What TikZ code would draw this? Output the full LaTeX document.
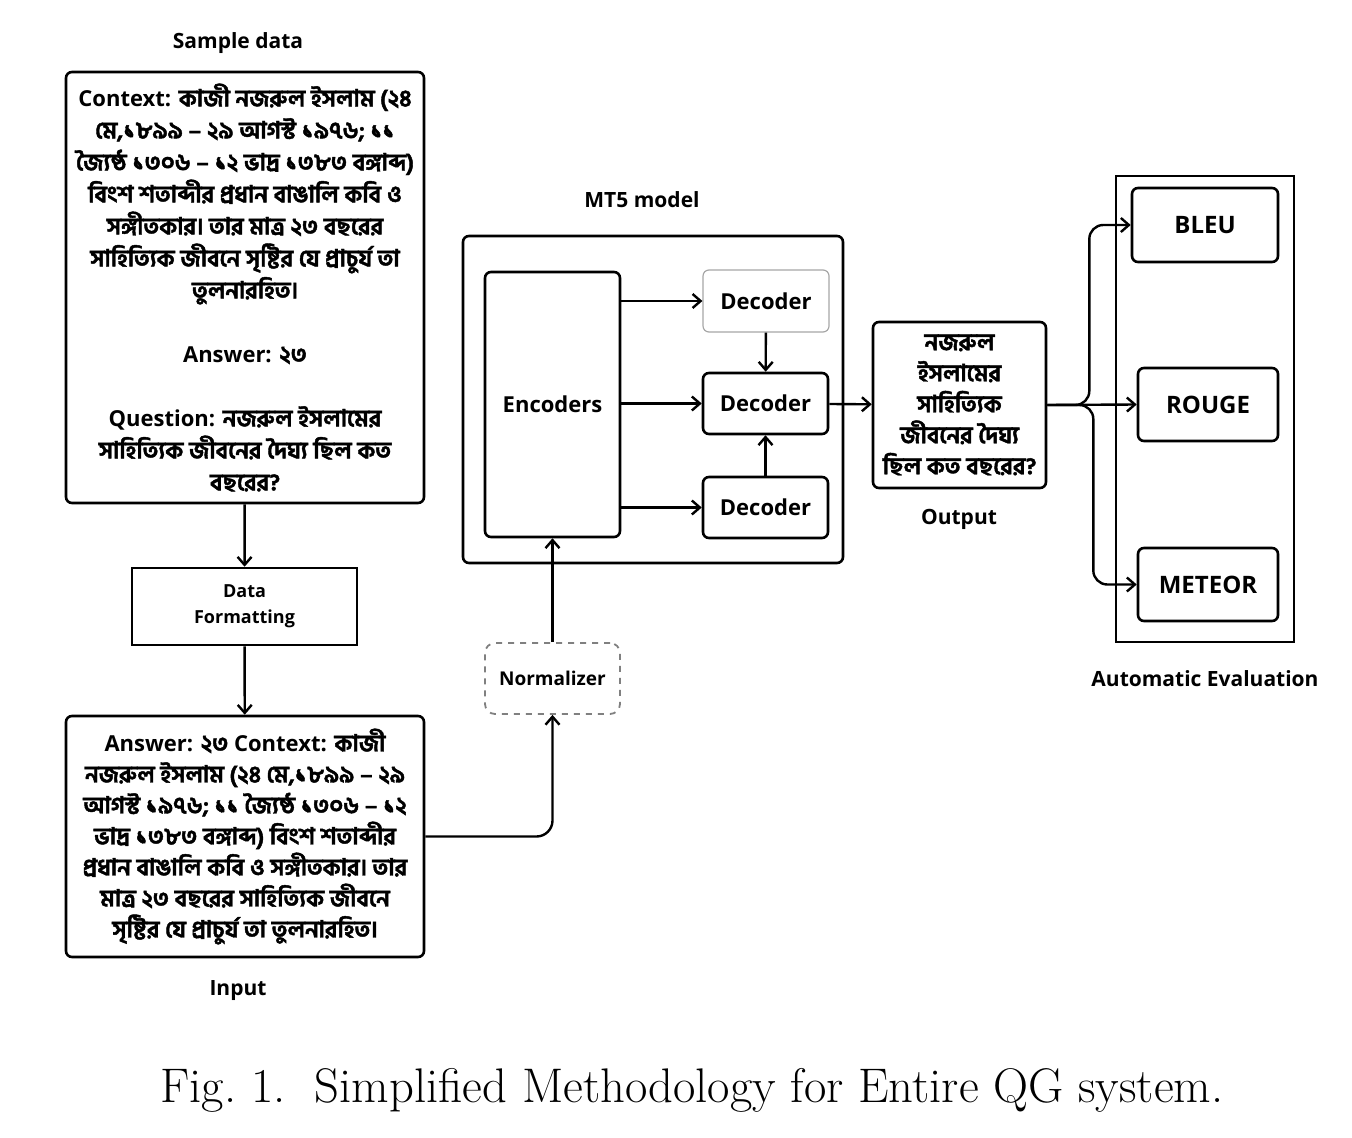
\documentclass[tikz,border=0pt]{standalone}
\usepackage{fontspec}
\setsansfont{Open Sans}
\newfontfamily\bnfont[Script=Bengali, Scale=1.07, FakeBold=1.8]{Hind Siliguri}
\usepackage{tikz}
\usetikzlibrary{arrows.meta, positioning, calc}
\newcommand{\bn}[1]{{\bnfont #1}}

\begin{document}
\begin{tikzpicture}[x=0.5pt, y=-0.5pt,
    box/.style={draw, line width=1.3pt, rounded corners=3pt, align=center, inner sep=0pt},
    arr/.style={-{Straight Barb[length=4pt, width=7pt]}, line width=1.2pt},
    title/.style={font=\sffamily\bfseries\fontsize{10.5}{12}\selectfont},
    body/.style={font=\sffamily\bfseries\fontsize{11}{16}\selectfont},
    metric/.style={box, minimum width=70pt, minimum height=36.5pt, font=\sffamily\bfseries\fontsize{12}{14}\selectfont}]
  \useasboundingbox (0,0) rectangle (1352,1138);
  % Sample data and its formatting
  \node[title] (sampletitle) at (238,43) {Sample data};
  \node[box, body, minimum width=179pt, minimum height=215.5pt] (sample) at (245,287.5) {%
    Context: \bn{কাজী নজরুল ইসলাম (২৪}\\
    \bn{মে,১৮৯৯ – ২৯ আগস্ট ১৯৭৬; ১১}\\
    \bn{জ্যৈষ্ঠ ১৩০৬ – ১২ ভাদ্র ১৩৮৩ বঙ্গাব্দ)}\\
    \bn{বিংশ শতাব্দীর প্রধান বাঙালি কবি ও}\\
    \bn{সঙ্গীতকার। তার মাত্র ২৩ বছরের}\\
    \bn{সাহিত্যিক জীবনে সৃষ্টির যে প্রাচুর্য তা}\\
    \bn{তুলনারহিত।}\\[16pt]
    Answer: \bn{২৩}\\[16pt]
    Question: \bn{নজরুল ইসলামের}\\
    \bn{সাহিত্যিক জীবনের দৈঘ্য ছিল কত}\\
    \bn{বছরের?}};
  \node[box, rounded corners=0pt, minimum width=112.5pt, minimum height=38.5pt,
    font=\sffamily\bfseries\fontsize{9}{13}\selectfont] (format) at (244.5,606.5) {Data\\Formatting};
  \node[box, font=\sffamily\bfseries\fontsize{11}{15.5}\selectfont, minimum width=179pt, minimum height=120.5pt] (input) at (245,836.5) {%
    Answer: \bn{২৩} Context: \bn{কাজী}\\
    \bn{নজরুল ইসলাম (২৪ মে,১৮৯৯ – ২৯}\\
    \bn{আগস্ট ১৯৭৬; ১১ জ্যৈষ্ঠ ১৩০৬ – ১২}\\
    \bn{ভাদ্র ১৩৮৩ বঙ্গাব্দ) বিংশ শতাব্দীর}\\
    \bn{প্রধান বাঙালি কবি ও সঙ্গীতকার। তার}\\
    \bn{মাত্র ২৩ বছরের সাহিত্যিক জীবনে}\\
    \bn{সৃষ্টির যে প্রাচুর্য তা তুলনারহিত।}};
  \node[title] (inputtitle) at (238,991) {Input};
  \node[box, dashed, draw=gray, line width=0.9pt, rounded corners=5pt, minimum width=67.5pt, minimum height=35.5pt,
    font=\sffamily\bfseries\fontsize{9.5}{12}\selectfont] (norm) at (552.5,678.5) {Normalizer};
  % MT5 model
  \node[title] (mt5title) at (642,200) {MT5 model};
  \node[box, minimum width=190pt, minimum height=163.5pt] (mt5) at (653,399.5) {};
  \node[box, body, minimum width=67.5pt, minimum height=132.5pt] (enc) at (552.5,404.5) {Encoders};
  \node[box, body, draw=black!35, line width=0.6pt, minimum width=63pt, minimum height=31pt] (dec1) at (766,301) {Decoder};
  \node[box, body, minimum width=62.5pt, minimum height=30.5pt] (dec2) at (765.5,403.5) {Decoder};
  \node[box, body, minimum width=62.5pt, minimum height=30.5pt] (dec3) at (765.5,507.5) {Decoder};
  % Output
  \node[box, font=\sffamily\bfseries\fontsize{11}{15.5}\selectfont, minimum width=86.5pt, minimum height=83pt] (out) at (959.5,405) {%
    \bn{নজরুল}\\
    \bn{ইসলামের}\\
    \bn{সাহিত্যিক}\\
    \bn{জীবনের দৈঘ্য}\\
    \bn{ছিল কত বছরের?}};
  \node[title] (outtitle) at (959,519) {Output};
  % Automatic evaluation
  \node[draw, line width=0.8pt, minimum width=89pt, minimum height=233pt] (evalbox) at (1205,409) {};
  \node[metric, minimum width=73pt, minimum height=37pt] (bleu) at (1205,225) {BLEU};
  \node[metric] (rouge) at (1208,404.5) {ROUGE};
  \node[metric] (meteor) at (1208,584.5) {METEOR};
  \node[title] (evaltitle) at (1205,679) {Automatic Evaluation};
  % Connectors
  \draw[arr] (sample) -- (format);
  \draw[arr] (format) -- (input);
  \draw[arr, rounded corners=8pt] (input.east) -| (norm.south);
  \draw[arr] (norm.north) -- (enc.south);
  \foreach \n in {1,2,3}
    \draw[arr] (enc.east |- dec\n.west) -- (dec\n.west);
  \draw[arr] (dec1) -- (dec2);
  \draw[arr] (dec3) -- (dec2);
  \draw[arr] (dec2) -- (out);
  \draw[arr, rounded corners=7pt] (out.east) -- ++(42,0) |- (bleu.west);
  \draw[arr] (out.east) -- (rouge.west);
  \draw[arr, rounded corners=7pt] (out.east) -- ++(46,0) |- (meteor.west);
  % Caption
  \node[font=\rmfamily\fontsize{24.3}{28}\selectfont] (caption) at (692,1090) {Fig.~1.\ \ Simplified Methodology for Entire QG system.};
\end{tikzpicture}
\end{document}
